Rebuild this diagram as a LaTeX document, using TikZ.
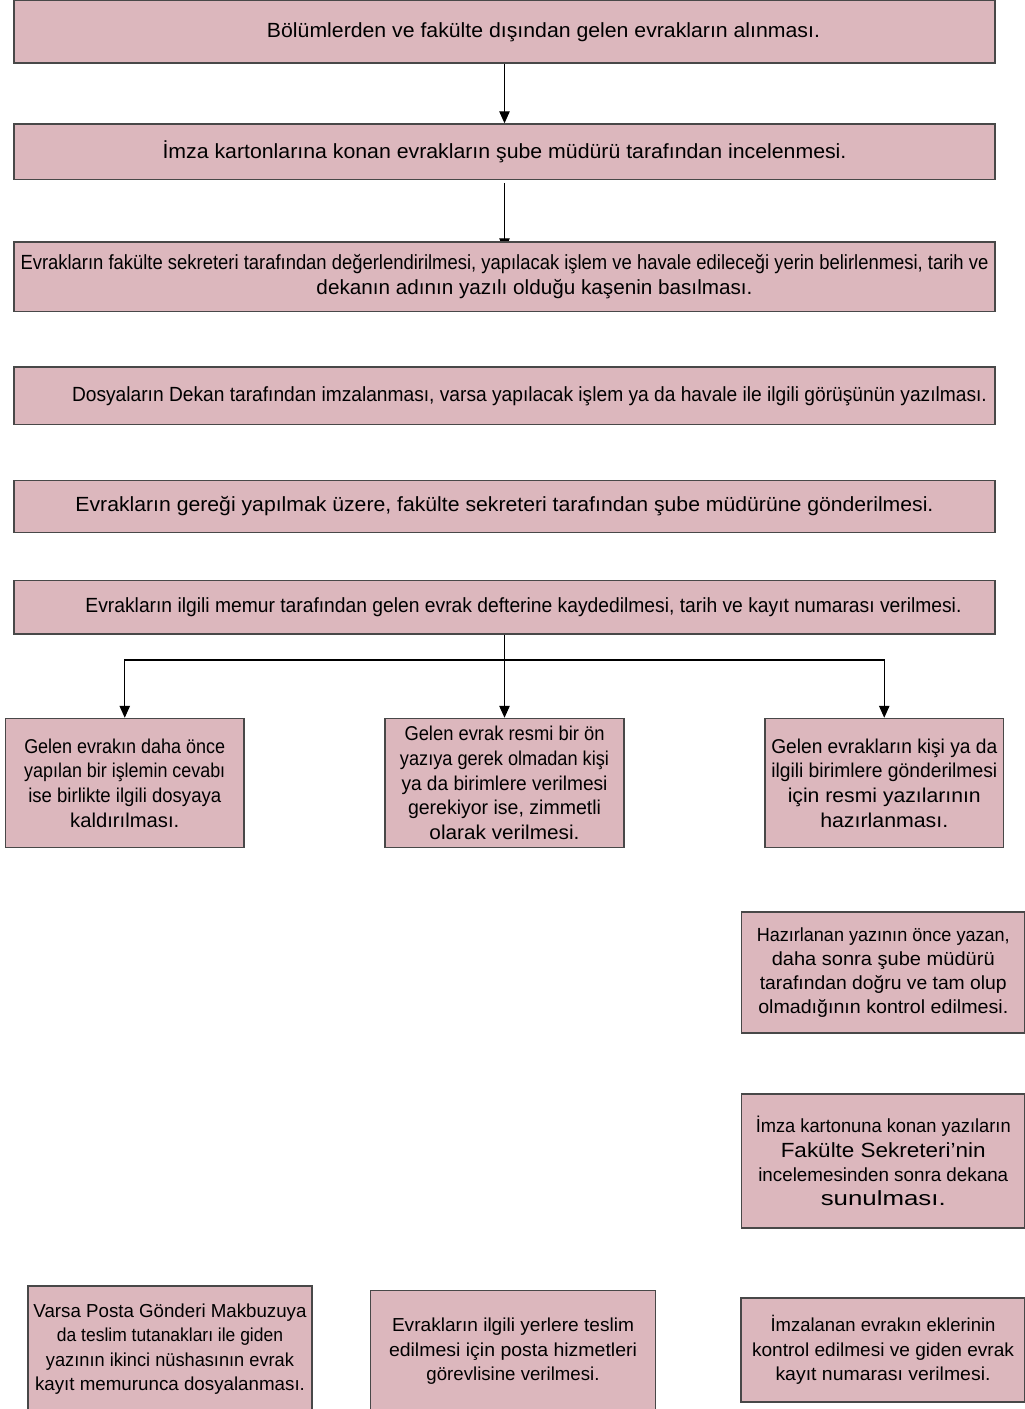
\documentclass[tikz,border=0pt]{standalone}
\usepackage{fontspec}
\setmainfont{Liberation Sans}
\usepackage{graphicx}
\usetikzlibrary{arrows.meta,backgrounds}
\definecolor{boxfill}{RGB}{220,183,189}
\definecolor{boxline}{RGB}{72,72,72}
% one line of text squeezed or stretched to a given width (in pt)
\newcommand\fl[2]{\resizebox{#1pt}{\height}{#2}}
\tikzset{
  box/.style={draw=boxline, fill=boxfill, line width=1.5pt, inner sep=0pt,
    align=center, font=\fontsize{20.5}{25}\selectfont},
  branchbox/.style={box, font=\fontsize{20}{24.7}\selectfont},
  sidebox/.style={box, font=\fontsize{19}{24.2}\selectfont},
  lowbox/.style={box, font=\fontsize{18.8}{24.5}\selectfont},
  link/.style={draw=black, line width=1.1pt, -{Triangle[length=12pt,width=10.5pt]}},
}
\begin{document}
\begin{tikzpicture}[x=1pt,y=-1pt]
\useasboundingbox (0,0) rectangle (1025,1409);

% main column
\node[box, minimum width=981pt, minimum height=62.5pt] (b1) at (504.5,31.75)
  {\hspace*{78pt}\fl{553}{Bölümlerden ve fakülte dışından gelen evrakların alınması.}};
\node[box, minimum width=981pt, minimum height=55.5pt] (b2) at (504.5,151.75)
  {\fl{684}{İmza kartonlarına konan evrakların şube müdürü tarafından incelenmesi.}};
\node[box, minimum width=981pt, minimum height=69.5pt] (b3) at (504.5,276.75)
  {\fl{968}{Evrakların fakülte sekreteri tarafından değerlendirilmesi, yapılacak işlem ve havale edileceği yerin belirlenmesi, tarih ve}\\
   \hspace*{60pt}\fl{436}{dekanın adının yazılı olduğu kaşenin basılması.}};
\node[box, minimum width=981pt, minimum height=57.5pt] (b4) at (504.5,395.75)
  {\hspace*{50pt}\fl{915}{Dosyaların Dekan tarafından imzalanması, varsa yapılacak işlem ya da havale ile ilgili görüşünün yazılması.}};
\node[box, minimum width=981pt, minimum height=52pt] (b5) at (504.5,506.5)
  {\fl{858}{Evrakların gereği yapılmak üzere, fakülte sekreteri tarafından şube müdürüne gönderilmesi.}};
\node[box, minimum width=981pt, minimum height=53.5pt] (b6) at (504.5,607.25)
  {\hspace*{38pt}\fl{876}{Evrakların ilgili memur tarafından gelen evrak defterine kaydedilmesi, tarih ve kayıt numarası verilmesi.}};

% three branches
\node[branchbox, minimum width=238.5pt, minimum height=129pt] (c1) at (124.75,783)
  {\fl{201}{Gelen evrakın daha önce}\\
   \fl{201}{yapılan bir işlemin cevabı}\\
   \fl{193}{ise birlikte ilgili dosyaya}\\
   \fl{109}{kaldırılması.}};
\node[branchbox, minimum width=239pt, minimum height=129pt] (c2) at (504.5,783)
  {\fl{200}{Gelen evrak resmi bir ön}\\
   \fl{209}{yazıya gerek olmadan kişi}\\
   \fl{206}{ya da birimlere verilmesi}\\
   \fl{193}{gerekiyor ise, zimmetli}\\
   \fl{150}{olarak verilmesi.}};
\node[branchbox, minimum width=238.5pt, minimum height=129pt] (c3) at (884.25,783)
  {\fl{226}{Gelen evrakların kişi ya da}\\
   \fl{226}{ilgili birimlere gönderilmesi}\\
   \fl{193}{için resmi yazılarının}\\
   \fl{128}{hazırlanması.}};

% right column
\node[sidebox, minimum width=283.5pt, minimum height=121pt] (r1) at (883.25,972.5)
  {\fl{253}{Hazırlanan yazının önce yazan,}\\
   \fl{223}{daha sonra şube müdürü}\\
   \fl{247}{tarafından doğru ve tam olup}\\
   \fl{250}{olmadığının kontrol edilmesi.}};
\node[sidebox, minimum width=283.5pt, minimum height=134pt] (r2) at (883.25,1161)
  {\fl{255}{İmza kartonuna konan yazıların}\\
   \fl{205}{\fontsize{20.5}{24.2}\selectfont Fakülte Sekreteri’nin}\\
   \fl{250}{incelemesinden sonra dekana}\\
   \fl{125}{\fontsize{20.5}{24.2}\selectfont sunulması.}};

% bottom row
\node[lowbox, minimum width=284pt, minimum height=126pt] (d1) at (170,1349)
  {\fl{273}{Varsa Posta Gönderi Makbuzuya}\\
   \fl{226}{da teslim tutanakları ile giden}\\
   \fl{248}{yazının ikinci nüshasının evrak}\\
   \fl{270}{kayıt memurunca dosyalanması.}};
\node[lowbox, minimum width=285pt, minimum height=121.5pt] (d2) at (513,1351.25)
  {\fl{242}{Evrakların ilgili yerlere teslim}\\
   \fl{248}{edilmesi için posta hizmetleri}\\
   \fl{173}{görevlisine verilmesi.}};
\node[lowbox, minimum width=284pt, minimum height=104pt] (d3) at (883,1350)
  {\fl{225}{İmzalanan evrakın eklerinin}\\
   \fl{262}{kontrol edilmesi ve giden evrak}\\
   \fl{215}{kayıt numarası verilmesi.}};

% connectors, kept behind the boxes
\begin{scope}[on background layer]
  \draw[link] (b1.south) -- (b2.north);
  \draw[link, shorten <=3pt, shorten >=-9pt] (b2.south) -- (b3.north);
  \coordinate (j) at (504.5,660);
  \draw[link] (b6.south) -- (c2.north);
  \draw[link] (j) -| (c1.north);
  \draw[link] (j) -| (c3.north);
\end{scope}
\end{tikzpicture}
\end{document}
